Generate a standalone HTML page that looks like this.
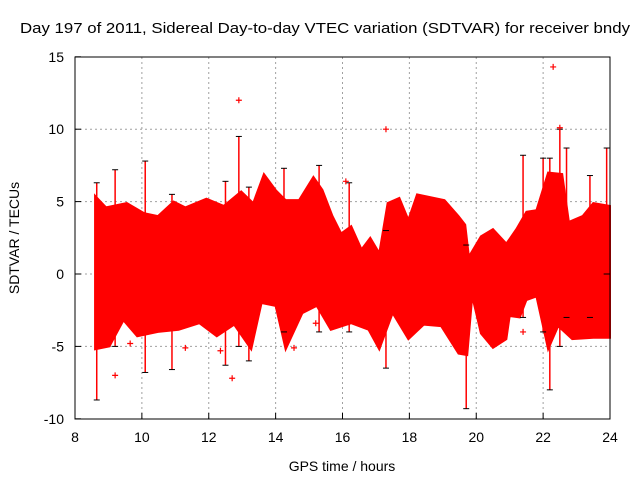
<!DOCTYPE html>
<html><head><meta charset="utf-8"><style>
body{margin:0;background:#fff}
svg{display:block;font-family:"Liberation Sans",sans-serif}
</style></head><body>
<svg id="chart" width="640" height="480" viewBox="0 0 640 480" xmlns="http://www.w3.org/2000/svg">
<text x="20" y="33" font-size="15" textLength="610" lengthAdjust="spacingAndGlyphs">Day 197 of 2011, Sidereal Day-to-day VTEC variation (SDTVAR) for receiver bndy</text>
<text x="342" y="471" font-size="14" text-anchor="middle">GPS time / hours</text>
<text transform="translate(19,238) rotate(-90)" font-size="14" text-anchor="middle">SDTVAR / TECUs</text>
<g id="grid"></g><g id="data"></g><g id="axes"></g>
</svg>
<script>
const xTicks=[8,10,12,14,16,18,20,22,24];
const yTicks=[-10,-5,0,5,10,15];
const upperT=[8.6,8.93,9.55,10.07,10.48,10.95,11.3,11.93,12.45,12.97,13.33,13.65,14.0,14.3,14.7,15.13,15.4,15.7,15.96,16.26,16.57,16.83,17.1,17.35,17.7,17.97,18.23,19.05,19.47,19.67,19.78,20.14,20.5,20.9,21.2,21.5,21.8,22.15,22.57,22.77,23.18,23.5,24.0];
const upperV=[5.4,4.6,4.9,4.2,4.0,5.0,4.6,5.2,4.7,5.7,4.9,6.9,5.8,5.1,5.1,6.7,5.8,4.0,2.8,3.3,1.7,2.5,1.45,4.9,5.25,3.75,5.5,5.1,4.0,3.4,1.2,2.6,3.1,2.1,3.1,4.3,4.4,7.0,6.9,3.6,4.0,4.9,4.7];
const lowerT=[8.6,9.03,9.45,9.86,10.48,11.1,11.72,12.24,12.76,13.27,13.58,14.0,14.3,14.8,15.23,15.65,16.26,16.78,17.1,17.5,17.97,18.43,18.95,19.47,19.73,19.88,20.14,20.5,20.9,21.0,21.3,21.5,21.8,22.15,22.45,22.87,23.5,24.0];
const lowerV=[-5.2,-5.0,-3.2,-4.3,-4.0,-3.85,-3.4,-4.3,-3.5,-5.2,-2.0,-2.2,-5.2,-2.7,-2.2,-3.85,-3.4,-3.85,-5.2,-2.7,-4.5,-3.5,-3.6,-5.5,-5.6,-1.55,-4.1,-5.1,-4.5,-2.9,-3.0,-1.8,-1.55,-5.2,-3.6,-4.5,-4.4,-4.4];
const spikeT=[8.65,9.2,10.1,10.9,12.5,12.9,13.2,14.25,15.3,16.2,17.3,19.7,21.4,22.0,22.2,22.5,22.7,23.4,23.9];
const spikeLo=[-8.7,-5,-6.8,-6.6,-6.3,-5,-6,-4,-4,-4,-6.5,-9.3,-3,-4,-8,-5,-3,-3,0];
const spikeHi=[6.3,7.2,7.8,5.5,6.4,9.5,6,7.3,7.5,6.3,3,2,8.2,8,8,10,8.7,6.8,8.7];
const outT=[12.9,17.3,22.3,22.5,9.2,12.7,14.55,16.1,15.2,21.4,9.65,11.3,9.0,12.35];
const outV=[12,10,14.3,10.1,-7,-7.2,-5.1,6.4,-3.4,-4,-4.8,-5.1,-4.6,-5.3];
const NS='http://www.w3.org/2000/svg';
const X=h=>75+(h-8)*(535/16);
const Y=v=>274-v*14.48;
function mk(tag,attrs,parent){const e=document.createElementNS(NS,tag);for(const k in attrs)e.setAttribute(k,attrs[k]);parent.appendChild(e);return e;}
const grid=document.getElementById('grid'),data=document.getElementById('data'),axes=document.getElementById('axes');
xTicks.forEach(t=>{
 if(t>8&&t<24){const l=mk('line',{x1:X(t),x2:X(t),y1:57,y2:419,stroke:'#a0a0a0','stroke-dasharray':'2,3'},grid);
 
 }
 const tk=mk('line',{x1:X(t),x2:X(t),y1:419,y2:413,stroke:'#000'},axes);
 
 
 const tx=mk('text',{x:X(t),y:442,'font-size':14,'text-anchor':'middle'},axes);tx.textContent=t;
 
 
});
yTicks.forEach(t=>{
 if(t>-10&&t<15){const l=mk('line',{x1:75,x2:610,y1:Y(t),y2:Y(t),stroke:'#a0a0a0','stroke-dasharray':'2,3'},grid);
 
 }
 const tk=mk('line',{x1:75,x2:81,y1:Y(t),y2:Y(t),stroke:'#000'},axes);
 
 
 const tx=mk('text',{x:64,y:Y(t)+5,'font-size':14,'text-anchor':'end'},axes);tx.textContent=t;
 
 
});
const fr=mk('rect',{x:75,y:57,width:535,height:362,fill:'none',stroke:'#000'},axes);


let pts=upperT.map((t,i)=>X(t)+','+Y(upperV[i]));
for(let i=lowerT.length-1;i>=0;i--)pts.push(X(lowerT[i])+','+Y(lowerV[i]));
const band=mk('polygon',{points:pts.join(' '),fill:'#f00',stroke:'#f00','stroke-width':2},data);


spikeT.forEach((t,i)=>{
 const g=mk('g',{},data);
 
 
 mk('line',{x1:X(t),x2:X(t),y1:Y(spikeLo[i]),y2:Y(spikeHi[i]),stroke:'#f00','stroke-width':1.5},g);
 mk('line',{x1:X(t)-3,x2:X(t)+3,y1:Y(spikeLo[i]),y2:Y(spikeLo[i]),stroke:'#000'},g);
 mk('line',{x1:X(t)-3,x2:X(t)+3,y1:Y(spikeHi[i]),y2:Y(spikeHi[i]),stroke:'#000'},g);
});
outT.forEach((t,i)=>{
 const p=mk('path',{d:`M${X(t)-3},${Y(outV[i])}h6M${X(t)},${Y(outV[i])-3}v6`,stroke:'#f00','stroke-width':1.2},data);
 
 
});
</script>
</body></html>
